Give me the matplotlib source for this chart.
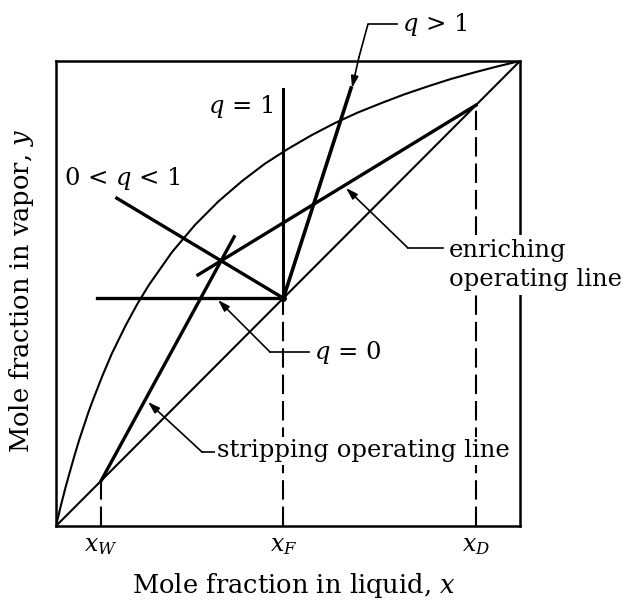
import matplotlib
matplotlib.use("Agg")
import matplotlib.pyplot as plt

plt.rcParams['font.family'] = ['DejaVu Serif']
plt.rcParams['mathtext.fontset'] = 'dejavuserif'
plt.rcParams['lines.scale_dashes'] = False

# ---- data ----
x_eq = [0.0, 0.01, 0.02, 0.03, 0.04, 0.05, 0.07, 0.08, 0.10, 0.12, 0.15, 0.175, 0.20, 0.25, 0.30,
        0.35, 0.40, 0.45, 0.50, 0.55, 0.60, 0.65, 0.70, 0.75, 0.80, 0.85, 0.90, 0.95, 1.0]
y_eq = [0.0, 0.042, 0.081, 0.117, 0.152, 0.185, 0.245, 0.272, 0.323, 0.370, 0.431, 0.477, 0.518, 0.589, 0.648,
        0.698, 0.741, 0.779, 0.811, 0.840, 0.866, 0.889, 0.909, 0.928, 0.945, 0.961, 0.975, 0.988, 1.0]

diag_x = [0.0, 1.0]
diag_y = [0.0, 1.0]

x_W = 0.097
x_F = 0.49
x_D = 0.905

enrich_x = [0.905, 0.306]
enrich_y = [0.905, 0.540]

strip_x = [0.097, 0.384]
strip_y = [0.097, 0.622]

q1_x = [0.49, 0.49]
q1_y = [0.49, 0.94]
q0_x = [0.088, 0.49]
q0_y = [0.49, 0.49]
qmid_x = [0.131, 0.49]
qmid_y = [0.705, 0.49]
qgt_x = [0.49, 0.636]
qgt_y = [0.49, 0.942]

tick_pos = [x_W, x_F, x_D]
tick_labels = [r'$x_W$', r'$x_F$', r'$x_D$']

W, H = 628, 603
fig = plt.figure(figsize=(W / 100, H / 100), dpi=100)
L, R, T, B = 56, 520, 61, 526
ax = fig.add_axes([L / W, 1 - B / H, (R - L) / W, (B - T) / H])
ax.set_xlim(0, 1)
ax.set_ylim(0, 1)
for s in ax.spines.values():
    s.set_linewidth(1.8)
    s.set_zorder(3)

k = 'black'
ax.plot(x_eq, y_eq, color=k, lw=1.5, solid_joinstyle='round')
ax.plot(diag_x, diag_y, color=k, lw=1.5)
ax.plot(enrich_x, enrich_y, color=k, lw=2.4)
ax.plot(strip_x, strip_y, color=k, lw=2.4)
ax.plot(q1_x, q1_y, color=k, lw=2.2)
ax.plot(q0_x, q0_y, color=k, lw=2.4)
ax.plot(qmid_x, qmid_y, color=k, lw=2.4)
ax.plot(qgt_x, qgt_y, color=k, lw=2.6)
ax.plot([x_F], [x_F], 'o', color=k, ms=4)

dash = (0, (14, 5))
for xv in tick_pos:
    ax.plot([xv, xv], [0, xv], color=k, lw=1.5, linestyle=dash)

ax.set_xticks(tick_pos)
ax.set_xticklabels(tick_labels, fontsize=17)
ax.set_yticks([])
ax.tick_params(axis='x', length=0, pad=6)

fs = 17.5
def tx(px, py):
    return ((px - L) / (R - L), (B - py) / (B - T))

def leader(pts, tip):
    xs = [tx(*p)[0] for p in pts]
    ys = [tx(*p)[1] for p in pts]
    ax.plot(xs, ys, color=k, lw=1.2, clip_on=False, zorder=5)
    ax.annotate('', xy=tx(*tip), xytext=tx(*pts[-1]),
                arrowprops=dict(arrowstyle='-|>,head_length=0.7,head_width=0.22',
                                color=k, lw=1.2, shrinkA=0, shrinkB=0),
                annotation_clip=False, zorder=5)

bbox = dict(facecolor='white', edgecolor='none', pad=1.5)

# q > 1
ax.text(*tx(402, 25), r'$q$ > 1', fontsize=fs, ha='left', va='center', clip_on=False)
leader([(397, 24), (368, 24), (359, 57)], (352, 88))

# q = 1
ax.text(*tx(273, 106), r'$q$ = 1', fontsize=fs, ha='right', va='center')

# 0 < q < 1
ax.text(*tx(64, 178), r'0 < $q$ < 1', fontsize=fs, ha='left', va='center')

# enriching operating line
ax.text(*tx(449, 265), 'enriching\noperating line', fontsize=fs, ha='left', va='center',
        linespacing=1.3, clip_on=False, bbox=dict(facecolor='white', edgecolor='none', pad=3), zorder=6)
leader([(443, 248), (408, 248)], (346, 188))

# q = 0
ax.text(*tx(314, 352), r'$q$ = 0', fontsize=fs, ha='left', va='center')
leader([(309, 352), (270, 352)], (218, 300))

# stripping operating line
ax.text(*tx(217, 451), 'stripping operating line', fontsize=fs, ha='left', va='center',
        bbox=bbox, zorder=6)
leader([(216, 452), (202, 452)], (148, 402))

fig.text(22 / W, 1 - 291 / H, 'Mole fraction in vapor, ' + r'$y$', rotation=90,
         ha='center', va='center', fontsize=18.5)
fig.text(294 / W, 1 - 585 / H, 'Mole fraction in liquid, ' + r'$x$',
         ha='center', va='center', fontsize=18.5)

fig.savefig('out.png', dpi=100, facecolor='white')
